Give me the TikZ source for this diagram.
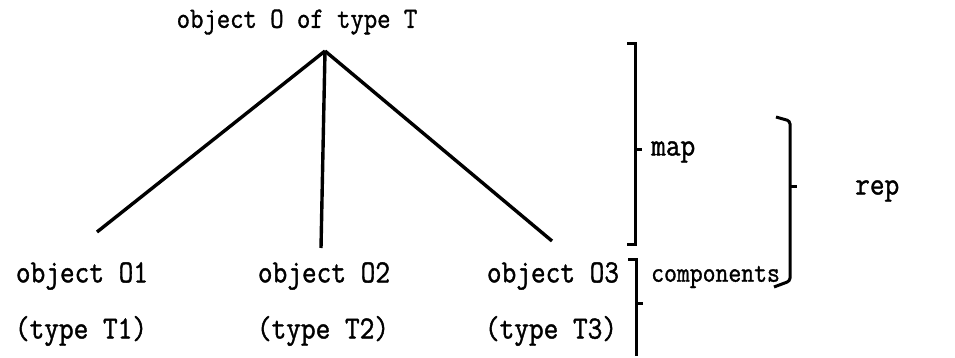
\documentclass[tikz,border=0pt]{standalone}
\usepackage{fontspec}
\newfontfamily\twfont{Latin Modern Mono}[FakeStretch=0.88,FakeBold=1.2]
\usetikzlibrary{positioning}
\begin{document}
\begin{tikzpicture}[x=1pt,y=-1pt,
  lbl/.style={font=\twfont\fontsize{32.4}{36}\selectfont,inner sep=0pt},
  edge/.style={line width=3.4pt},
  brk/.style={line width=3pt}
]
  \useasboundingbox (0,0) rectangle (955,358);
  % tree
  \node[lbl,font=\twfont\fontsize{29.5}{34}\selectfont](root) at (297,22) {object O of type T};
  \coordinate (apex) at (325,51);
  \node[lbl](o1) at (82,276)  {object O1};
  \node[lbl](o2) at (324,276) {object O2};
  \node[lbl](o3) at (553,276) {object O3};
  \node[lbl](t1) at (81,331)  {(type T1)};
  \node[lbl](t2) at (323,331) {(type T2)};
  \node[lbl](t3) at (551,331) {(type T3)};
  \coordinate (e1) at (97,232);
  \coordinate (e2) at (321,248);
  \coordinate (e3) at (552,241);
  \draw[edge](apex)--(e1);
  \draw[edge](apex)--(e2);
  \draw[edge](apex)--(e3);
  % brackets
  \node[lbl,anchor=west](map) at (651,152) {map};
  \node[lbl,anchor=west,font=\twfont\fontsize{28.4}{32}\selectfont](comp) at (651,277) {components};
  \node[lbl,anchor=west](rep) at (855,191) {rep};
  \draw[brk](627,44)--(635,44)--(635,244)--(627,244);
  \draw[brk](635,150)--(642,150);
  \draw[brk](628,259)--(636,259)--(636,356);
  \draw[brk](636,303)--(643,303);
  \draw[brk,rounded corners=3pt](776,117)--(790,121)--(790,281)--(774,287);
  \draw[brk](790,187)--(797,187);
\end{tikzpicture}
\end{document}
